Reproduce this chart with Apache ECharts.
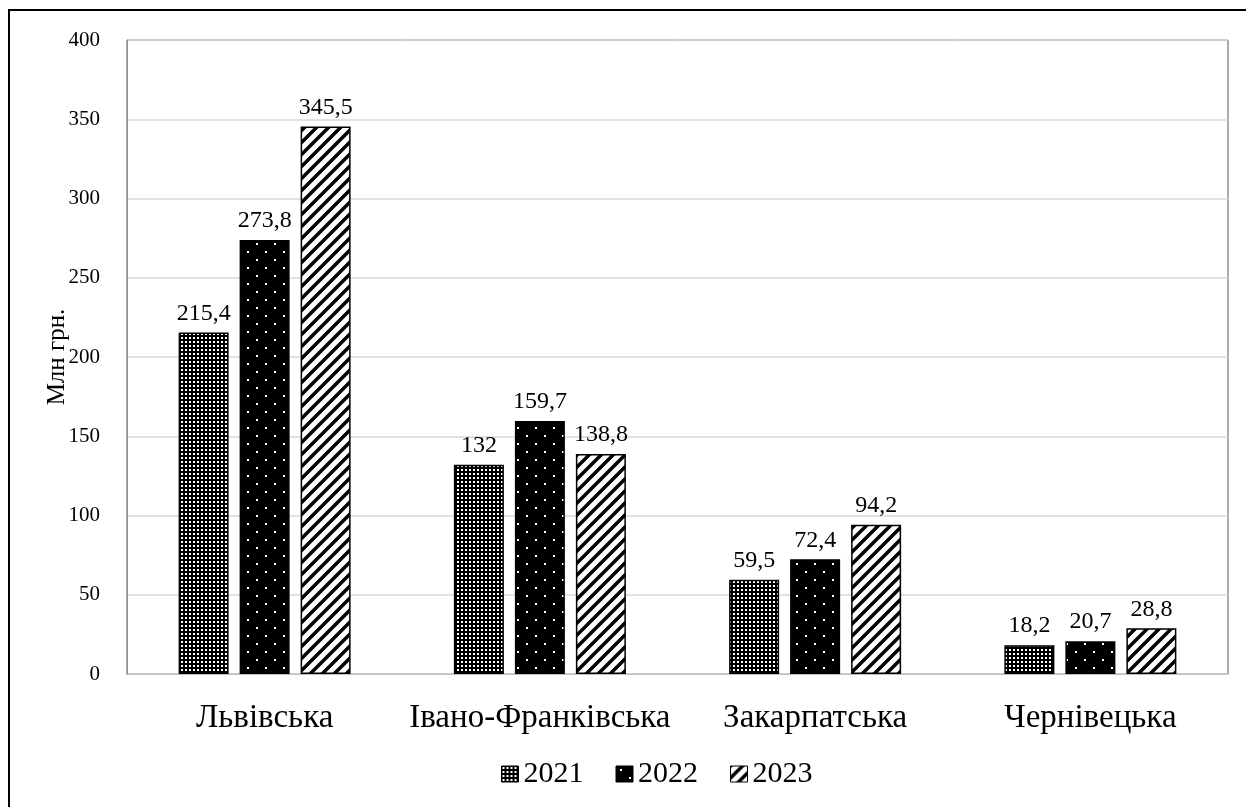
<!DOCTYPE html>
<html>
<head>
<meta charset="utf-8">
<script src="https://cdn.jsdelivr.net/npm/echarts@6/dist/echarts.min.js"></script>
<style>
html,body{margin:0;padding:0;background:#fff;}
#frame{position:absolute;left:8px;top:9px;width:1300px;height:900px;border-left:2px solid #000;border-top:2px solid #000;box-sizing:border-box;}
#chart{position:absolute;left:0;top:0;width:1246px;height:807px;}
</style>
</head>
<body>
<div id="frame"></div>
<div id="chart"></div>
<script>
const categories = ['Львівська', 'Івано-Франківська', 'Закарпатська', 'Чернівецька'];
const years = ['2021', '2022', '2023'];
const values2021 = [215.4, 132, 59.5, 18.2];
const values2022 = [273.8, 159.7, 72.4, 20.7];
const values2023 = [345.5, 138.8, 94.2, 28.8];
const yTicks = [0, 50, 100, 150, 200, 250, 300, 350, 400];

function makeTile(w, h, draw) {
  const c = document.createElement('canvas');
  c.width = w; c.height = h;
  const ctx = c.getContext('2d');
  draw(ctx, w, h);
  return c;
}
const tile2021 = makeTile(4, 4, (ctx) => {
  ctx.fillStyle = '#000'; ctx.fillRect(0, 0, 4, 4);
  ctx.fillStyle = '#fff'; ctx.fillRect(1, 1, 2, 2);
});
const tile2022 = makeTile(18, 16, (ctx) => {
  ctx.fillStyle = '#000'; ctx.fillRect(0, 0, 18, 16);
  ctx.fillStyle = '#fff'; ctx.fillRect(4, 3, 2, 2); ctx.fillRect(13, 11, 2, 2);
});
const tile2023 = makeTile(12, 12, (ctx) => {
  ctx.fillStyle = '#fff'; ctx.fillRect(0, 0, 12, 12);
  ctx.strokeStyle = '#000'; ctx.lineWidth = 3.5;
  ctx.beginPath();
  ctx.moveTo(-2, 14); ctx.lineTo(14, -2);
  ctx.moveTo(-8, 8); ctx.lineTo(8, -8);
  ctx.moveTo(4, 20); ctx.lineTo(20, 4);
  ctx.stroke();
});
const patterns = [tile2021, tile2022, tile2023];
const seriesValues = [values2021, values2022, values2023];

const fontFam = '"Liberation Serif", "Times New Roman", serif';

const chart = echarts.init(document.getElementById('chart'), null, {renderer: 'canvas'});
chart.setOption({
  animation: false,
  textStyle: {fontFamily: fontFam, color: '#000'},
  grid: {left: 127, right: 18, top: 40, bottom: 133, show: true, borderColor: '#595959', borderWidth: 1},
  legend: {
    left: 496, top: 754, itemWidth: 17, itemHeight: 16, itemGap: 32, itemTextGap: 5,
    textStyle: {fontFamily: fontFam, fontSize: 30, color: '#000'},
    data: years.map((y, i) => ({name: y, icon: 'rect', itemStyle: {color: {image: patterns[i], repeat: 'repeat'}, borderColor: '#000', borderWidth: 1}}))
  },
  xAxis: {
    type: 'category', data: categories,
    axisLine: {lineStyle: {color: '#bfbfbf'}},
    axisTick: {show: false},
    axisLabel: {fontFamily: fontFam, fontSize: 33, color: '#000', margin: 28, interval: 0}
  },
  yAxis: {
    type: 'value', min: 0, max: 400, interval: 50,
    name: 'Млн грн.', nameLocation: 'middle', nameRotate: 90, nameGap: 57, nameMoveOverlap: false,
    nameTextStyle: {fontFamily: fontFam, fontSize: 25, color: '#000'},
    axisLine: {show: true, lineStyle: {color: '#8c8c8c'}},
    axisTick: {show: false},
    splitLine: {lineStyle: {color: '#d9d9d9', width: 1.5}},
    axisLabel: {fontFamily: fontFam, fontSize: 21, color: '#000', margin: 27,
      formatter: v => yTicks.includes(v) ? String(v) : ''}
  },
  series: years.map((y, i) => ({
    name: y, type: 'bar', data: seriesValues[i],
    barWidth: 50, barGap: '22%',
    itemStyle: {color: {image: patterns[i], repeat: 'repeat'}, borderColor: '#000', borderWidth: 1.5},
    label: {show: true, position: 'top', distance: 7, fontFamily: fontFam, fontSize: 24, color: '#000',
      formatter: p => String(p.value).replace('.', ',')}
  }))
});
</script>
</body>
</html>
